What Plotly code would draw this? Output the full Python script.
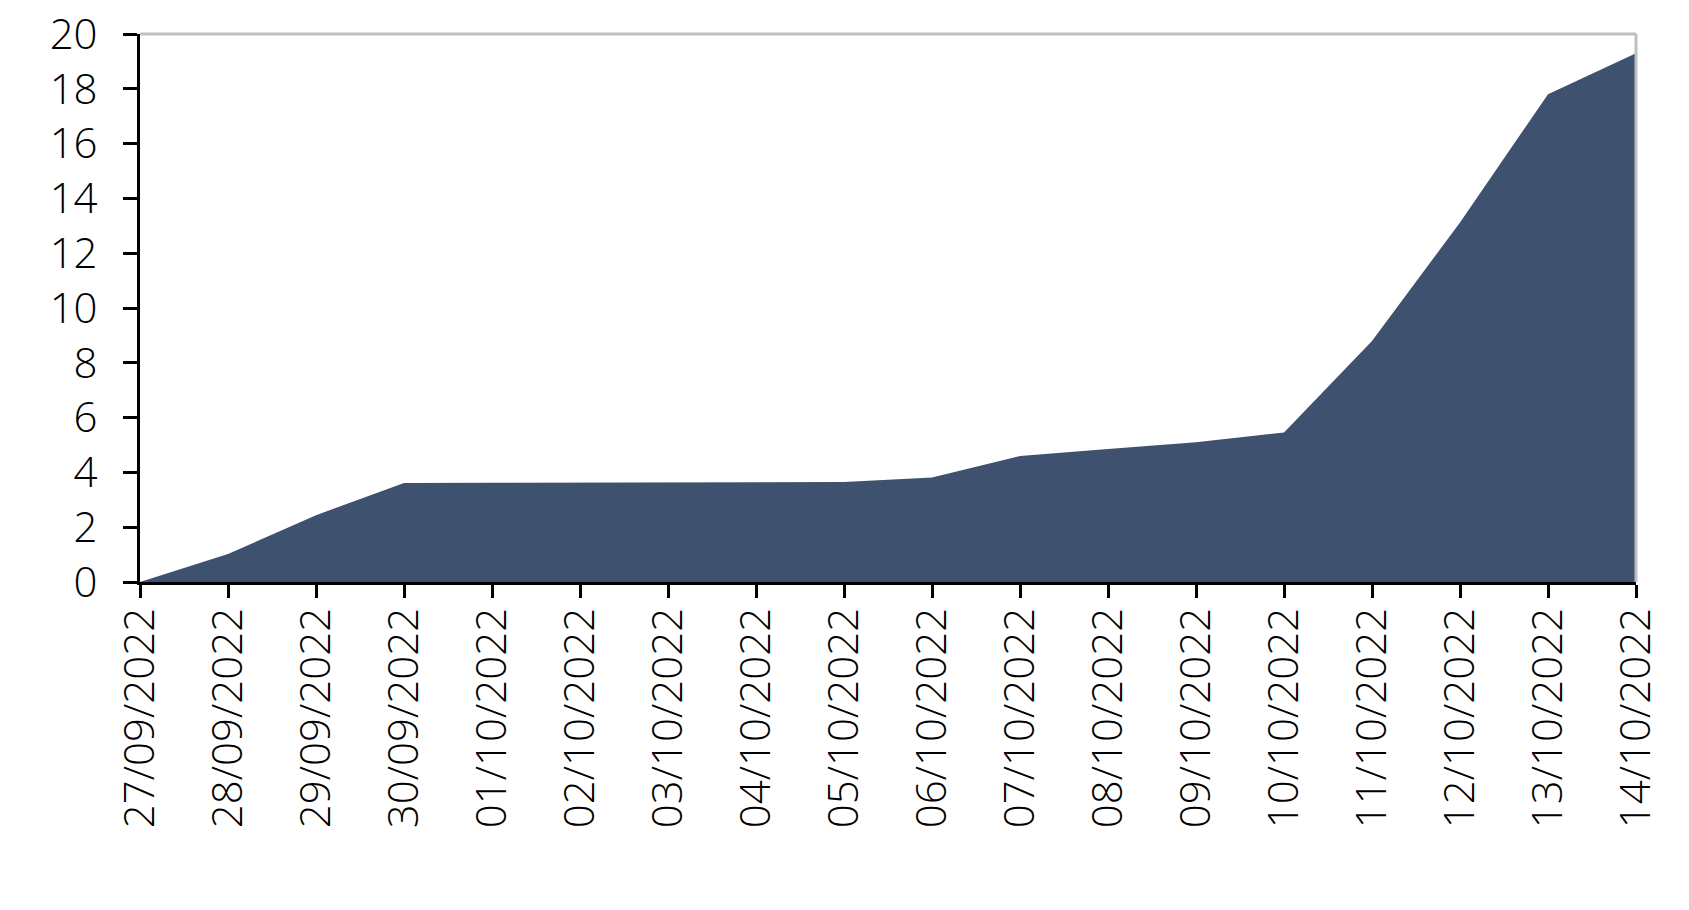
import plotly.graph_objects as go

dates = ["27/09/2022", "28/09/2022", "29/09/2022", "30/09/2022", "01/10/2022",
         "02/10/2022", "03/10/2022", "04/10/2022", "05/10/2022", "06/10/2022",
         "07/10/2022", "08/10/2022", "09/10/2022", "10/10/2022", "11/10/2022",
         "12/10/2022", "13/10/2022", "14/10/2022"]
values = [0.0, 1.02, 2.44, 3.61, 3.62, 3.63, 3.64, 3.64, 3.65, 3.81,
          4.6, 4.85, 5.1, 5.46, 8.8, 13.12, 17.8, 19.3]
y_ticks = [0, 2, 4, 6, 8, 10, 12, 14, 16, 18, 20]

fig = go.Figure()
fig.add_trace(go.Scatter(
    x=dates, y=values, mode="lines", fill="tozeroy",
    fillcolor="#3e516f", line=dict(width=0, color="#3e516f"),
    hoverinfo="x+y", showlegend=False,
))

font = dict(family="Open Sans", size=42, color="#000000", weight=300)

fig.update_layout(
    width=1689, height=910,
    margin=dict(l=140, r=53, t=34, b=328, autoexpand=False),
    paper_bgcolor="white", plot_bgcolor="white",
    font=font,
    shapes=[
        dict(type="line", xref="paper", yref="paper", x0=0, x1=1, y0=1, y1=1,
             line=dict(color="#bfbfbf", width=3), layer="above"),
        dict(type="line", xref="paper", yref="paper", x0=1, x1=1, y0=0, y1=1,
             line=dict(color="#bfbfbf", width=3), layer="above"),
    ],
)
fig.update_xaxes(
    type="category", range=[0, len(dates) - 1], automargin=False,
    showgrid=False, zeroline=False,
    showline=True, linecolor="#000000", linewidth=3,
    ticks="outside", ticklen=13, tickwidth=3, tickcolor="#000000",
    tickangle=-90, tickfont=font, ticklabelstandoff=-7,
    ticklabeloverflow="allow",
)
fig.update_yaxes(
    range=[0, 20], tickvals=y_ticks, automargin=False,
    showgrid=False, zeroline=False,
    showline=True, linecolor="#000000", linewidth=3,
    ticks="outside", ticklen=14, tickwidth=3, tickcolor="#000000",
    tickfont=font, ticklabelstandoff=17,
    ticklabeloverflow="allow",
)

fig.write_html(
    "out.html",
    config={"displayModeBar": False},
    post_script="document.body.style.margin='0';document.body.style.overflow='hidden';",
)
